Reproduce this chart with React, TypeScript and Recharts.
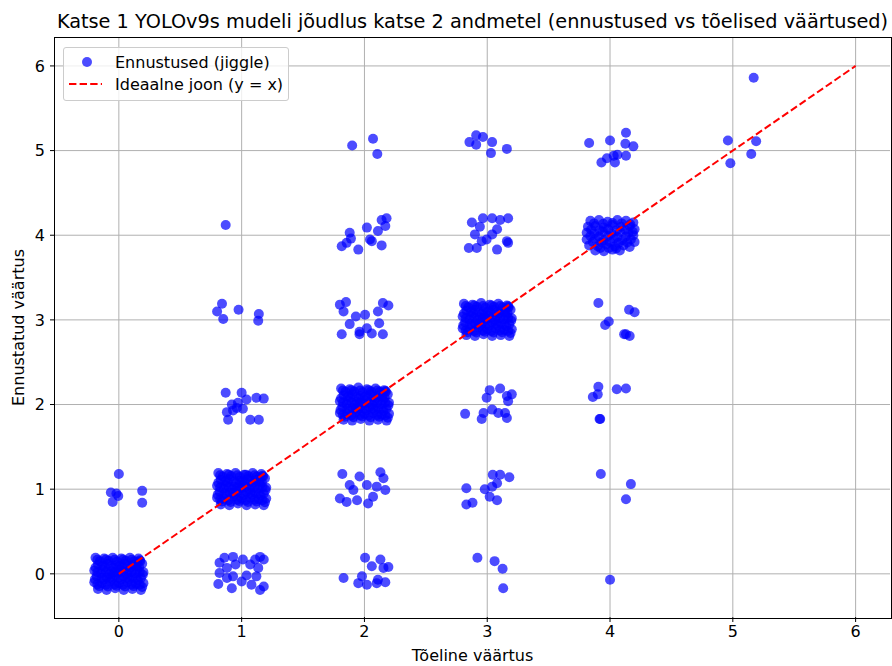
import { ScatterChart, Scatter, XAxis, YAxis, ReferenceLine } from 'recharts';

// akna mõõdud ja joonise kast (pikslites)
const W = 892;
const H = 666;
const PLOT = { left: 55, top: 38, right: 890, bottom: 617 };

const ticks = [0, 1, 2, 3, 4, 5, 6];
const xDomain: [number, number] = [-0.52, 6.28];
const yDomain: [number, number] = [-0.51, 6.33];

// ideaalne joon y = x
const idealLine = [
  { x: 0, y: 0 },
  { x: 6, y: 6 },
];

// ennustused, rühmitatud tõelise väärtuse järgi: [tõeline + jiggle, ennustus + jiggle]
const true0: [number, number][] = [
  [-0.19, 0.19], [-0.12, 0.18], [-0.05, 0.19], [0.02, 0.18], [0.09, 0.19], [0.16, 0.18], [0.19, 0.12],
  [-0.17, 0.11], [-0.09, 0.12], [-0.02, 0.1], [0.05, 0.12], [0.12, 0.11],
  [-0.2, 0.04], [-0.13, 0.05], [-0.06, 0.03], [0.01, 0.05], [0.08, 0.04], [0.15, 0.05], [0.2, 0.02],
  [-0.18, -0.03], [-0.1, -0.04], [-0.03, -0.02], [0.04, -0.03], [0.11, -0.04], [0.18, -0.05],
  [-0.2, -0.1], [-0.14, -0.11], [-0.07, -0.09], [0.0, -0.11], [0.07, -0.1], [0.14, -0.12], [0.2, -0.11],
  [-0.17, -0.18], [-0.1, -0.19], [-0.03, -0.17], [0.04, -0.19], [0.11, -0.18], [0.18, -0.19],
  [-0.155, 0.15], [-0.085, 0.155], [-0.015, 0.145], [0.055, 0.155], [0.125, 0.15], [0.175, 0.15],
  [-0.19, 0.075], [-0.115, 0.08], [-0.045, 0.07], [0.025, 0.08], [0.095, 0.075], [0.165, 0.08],
  [-0.145, 0.005], [-0.075, 0.0], [-0.005, 0.01], [0.065, 0.0], [0.135, 0.005], [0.195, -0.01],
  [-0.195, -0.065], [-0.125, -0.07], [-0.055, -0.06], [0.015, -0.07], [0.085, -0.065], [0.155, -0.075],
  [-0.16, -0.145], [-0.09, -0.15], [-0.02, -0.14], [0.05, -0.15], [0.12, -0.145], [0.19, -0.155],
  [-0.175, 0.165], [-0.105, 0.17], [-0.035, 0.165], [0.035, 0.17], [0.105, 0.165], [0.17, 0.16],
  [-0.135, 0.095], [-0.065, 0.09], [0.005, 0.095], [0.075, 0.09], [0.145, 0.095],
  [-0.175, 0.02], [-0.105, 0.025], [-0.035, 0.02], [0.035, 0.025], [0.105, 0.02], [0.17, 0.025],
  [-0.14, -0.05], [-0.07, -0.045], [0.0, -0.05], [0.07, -0.045], [0.14, -0.05],
  [-0.175, -0.125], [-0.105, -0.13], [-0.035, -0.125], [0.035, -0.13], [0.105, -0.125], [0.17, -0.13],
  [0.0, 1.18], [-0.065, 0.96], [-0.005, 0.92], [-0.05, 0.85], [0.19, 0.98], [0.19, 0.84], [-0.02, 0.95],
];

const true1: [number, number][] = [
  [0.87, 4.12],
  [0.84, 3.19], [0.8, 3.1], [0.85, 3.01], [0.975, 3.12], [1.14, 3.07], [1.135, 2.99],
  [0.87, 2.14], [1.0, 2.14], [1.04, 2.06], [1.12, 2.08], [1.18, 2.07], [0.92, 2.0], [0.96, 1.96],
  [1.01, 1.95], [0.88, 1.91], [0.93, 1.93], [0.89, 1.82], [1.07, 1.82], [1.14, 1.82], [0.97, 2.02],
  [0.81, 1.19], [0.88, 1.18], [0.95, 1.19], [1.02, 1.17], [1.09, 1.19], [1.16, 1.18], [1.19, 1.13],
  [0.83, 1.11], [0.9, 1.12], [0.98, 1.1], [1.05, 1.12], [1.12, 1.11],
  [0.8, 1.04], [0.87, 1.05], [0.94, 1.03], [1.01, 1.05], [1.08, 1.04], [1.15, 1.05], [1.2, 1.02],
  [0.82, 0.97], [0.9, 0.96], [0.97, 0.98], [1.04, 0.97], [1.11, 0.96], [1.18, 0.95],
  [0.8, 0.9], [0.86, 0.89], [0.93, 0.91], [1.0, 0.89], [1.07, 0.9], [1.14, 0.88], [1.2, 0.89],
  [0.83, 0.82], [0.9, 0.81], [0.97, 0.83], [1.04, 0.81], [1.11, 0.82], [1.18, 0.81],
  [0.845, 1.15], [0.915, 1.155], [0.985, 1.145], [1.055, 1.155], [1.125, 1.15], [1.175, 1.15],
  [0.81, 1.075], [0.885, 1.08], [0.955, 1.07], [1.025, 1.08], [1.095, 1.075], [1.165, 1.08],
  [0.855, 1.005], [0.925, 1.0], [0.995, 1.01], [1.065, 1.0], [1.135, 1.005], [1.195, 0.99],
  [0.805, 0.935], [0.875, 0.93], [0.945, 0.94], [1.015, 0.93], [1.085, 0.935], [1.155, 0.925],
  [0.84, 0.855], [0.91, 0.85], [0.98, 0.86], [1.05, 0.85], [1.12, 0.855], [1.19, 0.845],
  [0.825, 1.165], [0.895, 1.17], [0.965, 1.165], [1.035, 1.17], [1.105, 1.165], [1.17, 1.16],
  [0.865, 1.095], [0.935, 1.09], [1.005, 1.095], [1.075, 1.09], [1.145, 1.095],
  [0.825, 1.02], [0.895, 1.025], [0.965, 1.02], [1.035, 1.025], [1.105, 1.02], [1.17, 1.025],
  [0.86, 0.95], [0.93, 0.955], [1.0, 0.95], [1.07, 0.955], [1.14, 0.95],
  [0.825, 0.875], [0.895, 0.87], [0.965, 0.875], [1.035, 0.87], [1.105, 0.875], [1.17, 0.87],
  [0.82, 0.13], [0.86, 0.19], [0.93, 0.2], [1.01, 0.17], [1.11, 0.17], [1.15, 0.2], [1.18, 0.17],
  [0.88, 0.07], [0.95, 0.11], [1.07, 0.11], [1.135, 0.07], [0.82, 0.01], [0.93, -0.03], [1.04, -0.02],
  [1.12, -0.03], [0.81, -0.12], [0.92, -0.17], [1.0, -0.09], [1.08, -0.13], [1.15, -0.19],
  [1.18, -0.15], [0.88, -0.05],
];

const true2: [number, number][] = [
  [1.9, 5.06], [2.07, 5.14], [2.105, 4.96],
  [1.815, 3.87], [1.88, 4.03], [1.89, 3.96], [1.95, 3.83], [2.02, 4.09], [2.045, 3.95], [2.11, 4.05],
  [2.14, 3.88], [2.17, 4.11], [2.18, 4.2], [2.14, 4.18], [1.855, 3.91], [2.06, 3.93],
  [1.8, 3.18], [1.85, 3.21], [1.83, 3.1], [1.93, 3.04], [2.005, 3.06], [2.11, 3.1], [2.15, 3.2],
  [2.195, 3.17], [1.815, 2.83], [1.96, 2.83], [2.06, 2.84], [2.15, 2.83], [1.88, 2.95], [2.02, 2.9],
  [2.12, 2.96], [1.96, 2.86],
  [1.81, 2.19], [1.88, 2.18], [1.95, 2.2], [2.02, 2.18], [2.09, 2.19], [2.16, 2.17], [2.19, 2.12],
  [1.83, 2.11], [1.9, 2.12], [1.97, 2.1], [2.05, 2.12], [2.12, 2.11],
  [1.8, 2.04], [1.87, 2.05], [1.94, 2.03], [2.01, 2.05], [2.08, 2.04], [2.15, 2.05], [2.2, 2.02],
  [1.82, 1.97], [1.9, 1.96], [1.97, 1.98], [2.04, 1.97], [2.11, 1.96], [2.18, 1.95],
  [1.8, 1.9], [1.86, 1.89], [1.93, 1.91], [2.0, 1.89], [2.07, 1.9], [2.14, 1.88], [2.2, 1.89],
  [1.83, 1.82], [1.9, 1.81], [1.97, 1.83], [2.04, 1.81], [2.11, 1.82], [2.18, 1.81],
  [1.845, 2.15], [1.915, 2.155], [1.985, 2.145], [2.055, 2.155], [2.125, 2.15], [2.175, 2.15],
  [1.81, 2.075], [1.885, 2.08], [1.955, 2.07], [2.025, 2.08], [2.095, 2.075], [2.165, 2.08],
  [1.855, 2.005], [1.925, 2.0], [1.995, 2.01], [2.065, 2.0], [2.135, 2.005], [2.195, 1.99],
  [1.805, 1.935], [1.875, 1.93], [1.945, 1.94], [2.015, 1.93], [2.085, 1.935], [2.155, 1.925],
  [1.84, 1.855], [1.91, 1.85], [1.98, 1.86], [2.05, 1.85], [2.12, 1.855], [2.19, 1.845],
  [1.825, 2.165], [1.895, 2.17], [1.965, 2.165], [2.035, 2.17], [2.105, 2.165], [2.17, 2.16],
  [1.865, 2.095], [1.935, 2.09], [2.005, 2.095], [2.075, 2.09], [2.145, 2.095],
  [1.825, 2.02], [1.895, 2.025], [1.965, 2.02], [2.035, 2.025], [2.105, 2.02], [2.17, 2.025],
  [1.86, 1.95], [1.93, 1.955], [2.0, 1.95], [2.07, 1.955], [2.14, 1.95],
  [1.825, 1.875], [1.895, 1.87], [1.965, 1.875], [2.035, 1.87], [2.105, 1.875], [2.17, 1.87],
  [1.82, 1.18], [1.96, 1.15], [2.13, 1.2], [2.155, 1.13], [1.88, 1.05], [2.02, 1.05], [2.17, 0.99],
  [1.8, 0.89], [1.855, 0.85], [1.94, 0.87], [2.03, 0.83], [2.07, 0.91], [1.91, 0.99], [2.1, 1.03],
  [2.005, 0.19], [2.13, 0.17], [2.06, 0.09], [2.195, 0.08], [2.155, 0.07], [1.83, -0.05],
  [1.98, -0.03], [2.11, -0.07], [1.95, -0.11], [2.02, -0.13], [2.17, -0.1], [2.1, -0.11],
];

const true3: [number, number][] = [
  [2.855, 5.1], [2.91, 5.18], [2.965, 5.16], [2.91, 5.07], [3.04, 5.1], [3.03, 4.97], [3.16, 5.02],
  [2.875, 4.15], [2.965, 4.2], [3.04, 4.2], [3.105, 4.18], [3.17, 4.2], [2.94, 4.1], [3.08, 4.07],
  [2.9, 4.01], [2.995, 3.95], [2.955, 3.93], [2.85, 3.85], [2.915, 3.85], [3.08, 3.83], [3.16, 3.93],
  [3.17, 3.91], [3.04, 4.01],
  [2.81, 3.19], [2.88, 3.18], [2.95, 3.2], [3.02, 3.18], [3.09, 3.19], [3.16, 3.17], [3.19, 3.12],
  [2.83, 3.11], [2.9, 3.12], [2.97, 3.1], [3.05, 3.12], [3.12, 3.11],
  [2.8, 3.04], [2.87, 3.05], [2.94, 3.03], [3.01, 3.05], [3.08, 3.04], [3.15, 3.05], [3.2, 3.02],
  [2.82, 2.97], [2.9, 2.96], [2.97, 2.98], [3.04, 2.97], [3.11, 2.96], [3.18, 2.95],
  [2.8, 2.9], [2.86, 2.89], [2.93, 2.91], [3.0, 2.89], [3.07, 2.9], [3.14, 2.88], [3.2, 2.89],
  [2.83, 2.82], [2.9, 2.81], [2.97, 2.83], [3.04, 2.81], [3.11, 2.82], [3.18, 2.81],
  [2.845, 3.15], [2.915, 3.155], [2.985, 3.145], [3.055, 3.155], [3.125, 3.15], [3.175, 3.15],
  [2.81, 3.075], [2.885, 3.08], [2.955, 3.07], [3.025, 3.08], [3.095, 3.075], [3.165, 3.08],
  [2.855, 3.005], [2.925, 3.0], [2.995, 3.01], [3.065, 3.0], [3.135, 3.005], [3.195, 2.99],
  [2.805, 2.935], [2.875, 2.93], [2.945, 2.94], [3.015, 2.93], [3.085, 2.935], [3.155, 2.925],
  [2.84, 2.855], [2.91, 2.85], [2.98, 2.86], [3.05, 2.85], [3.12, 2.855], [3.19, 2.845],
  [2.825, 3.165], [2.895, 3.17], [2.965, 3.165], [3.035, 3.17], [3.105, 3.165], [3.17, 3.16],
  [2.865, 3.095], [2.935, 3.09], [3.005, 3.095], [3.075, 3.09], [3.145, 3.095],
  [2.825, 3.02], [2.895, 3.025], [2.965, 3.02], [3.035, 3.025], [3.105, 3.02], [3.17, 3.025],
  [2.86, 2.95], [2.93, 2.955], [3.0, 2.95], [3.07, 2.955], [3.14, 2.95],
  [2.825, 2.875], [2.895, 2.87], [2.965, 2.875], [3.035, 2.87], [3.105, 2.875], [3.17, 2.87],
  [3.02, 2.17], [3.105, 2.19], [2.995, 2.08], [3.16, 2.1], [3.2, 2.12], [3.17, 2.04], [2.82, 1.89],
  [2.97, 1.9], [3.04, 1.94], [3.09, 1.9], [3.145, 1.9], [2.955, 1.83], [3.16, 1.84],
  [3.045, 1.17], [3.105, 1.17], [3.18, 1.14], [2.83, 1.01], [2.98, 1.0], [3.04, 1.03], [3.08, 1.07],
  [3.02, 0.91], [3.08, 0.87], [2.83, 0.82], [2.88, 0.84],
  [2.92, 0.19], [3.06, 0.15], [3.125, 0.06], [3.13, -0.17],
];

const true4: [number, number][] = [
  [3.83, 5.09], [4.0, 5.12], [4.13, 5.21], [4.125, 5.08], [4.19, 5.05], [4.06, 4.95], [4.03, 4.94],
  [4.13, 4.94], [3.975, 4.91], [3.93, 4.86], [4.04, 4.86],
  [3.84, 4.17], [3.91, 4.18], [3.98, 4.16], [4.06, 4.18], [4.13, 4.17], [4.19, 4.15],
  [3.82, 4.1], [3.88, 4.11], [3.95, 4.09], [4.02, 4.12], [4.09, 4.1], [4.16, 4.11], [4.2, 4.07],
  [3.81, 4.03], [3.87, 4.02], [3.94, 4.04], [4.01, 4.02], [4.08, 4.04], [4.15, 4.03], [4.19, 4.0],
  [3.81, 3.95], [3.88, 3.96], [3.95, 3.94], [4.03, 3.96], [4.1, 3.94], [4.17, 3.95], [4.2, 3.92],
  [3.83, 3.88], [3.9, 3.87], [3.97, 3.89], [4.04, 3.87], [4.11, 3.88], [4.16, 3.86],
  [3.88, 3.82], [3.95, 3.81], [4.02, 3.83], [4.08, 3.82],
  [3.87, 4.14], [3.945, 4.135], [4.02, 4.145], [4.095, 4.14], [4.165, 4.13],
  [3.845, 4.065], [3.915, 4.06], [3.985, 4.07], [4.055, 4.06], [4.125, 4.065], [4.185, 4.04],
  [3.84, 3.99], [3.91, 3.985], [3.985, 3.99], [4.06, 3.98], [4.13, 3.985],
  [3.86, 3.92], [3.93, 3.915], [4.0, 3.92], [4.07, 3.91], [4.14, 3.915],
  [3.92, 3.85], [3.99, 3.85], [4.05, 3.845],
  [3.905, 3.2], [4.155, 3.12], [4.2, 3.09], [3.99, 2.98], [3.96, 2.94], [4.115, 2.83], [4.16, 2.81],
  [4.13, 2.83],
  [3.905, 2.21], [4.055, 2.18], [4.13, 2.19], [3.9, 2.12], [3.86, 2.09], [3.92, 1.83], [3.915, 1.83],
  [3.925, 1.18], [4.17, 1.06], [4.13, 0.88],
  [4.0, -0.07],
];

const true5: [number, number][] = [
  [4.96, 5.12], [5.17, 5.86], [5.19, 5.11], [5.15, 4.96], [4.98, 4.85],
];

const predictions = [...true0, ...true1, ...true2, ...true3, ...true4, ...true5].map(([x, y]) => ({ x, y }));

const FONT = '"DejaVu Sans", sans-serif';
const GRID = '#b0b0b0';
const FS = 16;

const Dot = (p: any) => <circle cx={p.cx} cy={p.cy} r={5} fill="#0000ff" fillOpacity={0.7} />;

export default function App() {
  return (
    <div style={{ position: 'absolute', left: 0, top: 0, width: W, height: H, background: '#fff', fontFamily: FONT }}>
      <div
        style={{
          position: 'absolute',
          top: 9,
          left: PLOT.left - 40,
          width: PLOT.right - PLOT.left + 80,
          textAlign: 'center',
          fontSize: 19.3,
          lineHeight: '26px',
          color: '#000',
          whiteSpace: 'nowrap',
        }}
      >
        Katse 1 YOLOv9s mudeli jõudlus katse 2 andmetel (ennustused vs tõelised väärtused)
      </div>
      <ScatterChart
        width={W}
        height={H}
        margin={{ top: PLOT.top, right: W - PLOT.right, bottom: 1, left: 2 }}
        style={{ position: 'absolute', left: 0, top: 0 }}
      >
        <XAxis
          type="number"
          dataKey="x"
          domain={xDomain}
          ticks={ticks}
          allowDataOverflow
          height={H - PLOT.bottom - 1}
          axisLine={false}
          tickSize={5}
          tickMargin={4}
          tickLine={{ stroke: '#000' }}
          tick={{ fill: '#000', fontSize: FS, fontFamily: FONT }}
          label={{ value: 'Tõeline väärtus', position: 'insideBottom', offset: 4, fill: '#000', fontSize: FS, fontFamily: FONT }}
        />
        <YAxis
          type="number"
          dataKey="y"
          domain={yDomain}
          ticks={ticks}
          allowDataOverflow
          width={PLOT.left - 2}
          axisLine={false}
          tickSize={5}
          tickMargin={5}
          tickLine={{ stroke: '#000' }}
          tick={{ fill: '#000', fontSize: FS, fontFamily: FONT }}
          label={{
            value: 'Ennustatud väärtus',
            angle: -90,
            position: 'insideLeft',
            offset: 16,
            style: { textAnchor: 'middle' },
            fill: '#000',
            fontSize: FS,
            fontFamily: FONT,
          }}
        />
        <Scatter data={predictions} shape={Dot} isAnimationActive={false} />
        <Scatter
          data={idealLine}
          line={{ stroke: '#ff0000', strokeWidth: 2, strokeDasharray: '7.4 3.2' }}
          shape={() => <g />}
          isAnimationActive={false}
        />
        {ticks.map((t) => (
          <ReferenceLine key={'gx' + t} x={t} stroke={GRID} strokeWidth={1} />
        ))}
        {ticks.map((t) => (
          <ReferenceLine key={'gy' + t} y={t} stroke={GRID} strokeWidth={1} />
        ))}
      </ScatterChart>
      {/* telgede raam */}
      <div
        style={{
          position: 'absolute',
          left: PLOT.left - 1,
          top: PLOT.top - 1,
          width: PLOT.right - PLOT.left + 1,
          height: PLOT.bottom - PLOT.top + 1,
          border: '1px solid #000',
          pointerEvents: 'none',
        }}
      />
      {/* legend */}
      <div
        style={{
          position: 'absolute',
          left: 63,
          top: 47,
          width: 224,
          height: 52,
          border: '1px solid #cccccc',
          borderRadius: 3,
          background: 'rgba(255,255,255,0.8)',
          fontSize: FS,
          color: '#000',
        }}
      >
        <div style={{ position: 'absolute', left: 0, top: 3, height: 22, display: 'flex', alignItems: 'center' }}>
          <svg width={50} height={22}>
            <circle cx={23} cy={11} r={5} fill="#0000ff" fillOpacity={0.7} />
          </svg>
          <span style={{ marginLeft: 1, whiteSpace: 'nowrap' }}>Ennustused (jiggle)</span>
        </div>
        <div style={{ position: 'absolute', left: 0, top: 25, height: 22, display: 'flex', alignItems: 'center' }}>
          <svg width={50} height={22}>
            <line x1={5} y1={11} x2={38} y2={11} stroke="#ff0000" strokeWidth={2} strokeDasharray="7.4 3.2" />
          </svg>
          <span style={{ marginLeft: 1, whiteSpace: 'nowrap' }}>Ideaalne joon (y = x)</span>
        </div>
      </div>
    </div>
  );
}
